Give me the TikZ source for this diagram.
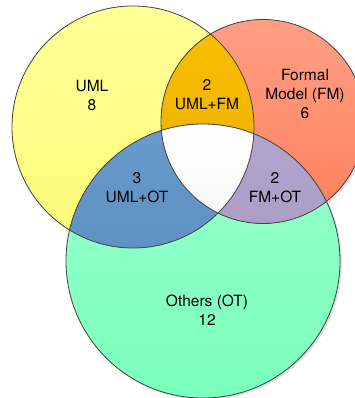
\documentclass[tikz,border=0pt]{standalone}
\usepackage{fontspec}
\setmainfont{TeX Gyre Heros}
\usetikzlibrary{positioning}

\definecolor{umltop}{RGB}{255,255,150}
\definecolor{umlbot}{RGB}{255,250,122}
\definecolor{fmtop}{RGB}{255,158,132}
\definecolor{fmbot}{RGB}{255,128,92}
\definecolor{ottop}{RGB}{152,255,205}
\definecolor{otbot}{RGB}{122,255,188}
\definecolor{umlfmtop}{RGB}{250,192,0}
\definecolor{umlfmbot}{RGB}{234,172,0}
\definecolor{umlottop}{RGB}{104,154,204}
\definecolor{umlotbot}{RGB}{84,134,184}
\definecolor{fmottop}{RGB}{178,164,204}
\definecolor{fmotbot}{RGB}{164,148,188}
\definecolor{rim}{RGB}{70,70,70}

\tikzset{
  settext/.style={align=center, font=\fontsize{15.5}{19}\selectfont, inner sep=0pt},
  rimline/.style={draw=rim, line width=0.8pt}
}

\begin{document}
\begin{tikzpicture}[x=1pt, y=-1pt]
  \useasboundingbox (0,0) rectangle (355,398);
  \clip (0,0) rectangle (355,398);

  \coordinate (uml) at (133,127);
  \coordinate (fm) at (263,121.5);
  \coordinate (ot) at (203,261);

  % sombras
  \fill[black, opacity=0.12] ([shift={(2,2)}]uml) circle [radius=121pt];
  \fill[black, opacity=0.12] ([shift={(2,2)}]fm) circle [radius=102pt];
  \fill[black, opacity=0.12] ([shift={(2,2)}]ot) circle [radius=137pt];

  % conjuntos
  \fill[top color=umltop, bottom color=umlbot] (uml) circle [radius=121pt];
  \fill[top color=fmtop, bottom color=fmbot] (fm) circle [radius=102pt];
  \fill[top color=ottop, bottom color=otbot] (ot) circle [radius=137pt];

  % intersecoes
  \begin{scope}
    \clip (uml) circle [radius=121pt];
    \fill[top color=umlfmtop, bottom color=umlfmbot] (fm) circle [radius=102pt];
  \end{scope}
  \begin{scope}
    \clip (uml) circle [radius=121pt];
    \fill[top color=umlottop, bottom color=umlotbot] (ot) circle [radius=137pt];
  \end{scope}
  \begin{scope}
    \clip (fm) circle [radius=102pt];
    \fill[top color=fmottop, bottom color=fmotbot] (ot) circle [radius=137pt];
  \end{scope}
  \begin{scope}
    \clip (uml) circle [radius=121pt];
    \clip (fm) circle [radius=102pt];
    \fill[top color=white, bottom color=black!8] (ot) circle [radius=137pt];
  \end{scope}

  \draw[rimline] (uml) circle [radius=121pt];
  \draw[rimline] (fm) circle [radius=102pt];
  \draw[rimline] (ot) circle [radius=137pt];

  % textos
  \node[settext] (umlonly) at (92,95) {UML\\8};
  \node[settext] (fmonly) at (305,94) {Formal\\Model (FM)\\6};
  \node[settext] (otonly) at (207,310) {Others (OT)\\12};
  \node[settext] (umlfm) at (207,95) {2\\UML+FM};
  \node[settext] (umlot) at (137,188) {3\\UML+OT};
  \node[settext] (fmot) at (275,188) {2\\FM+OT};
\end{tikzpicture}
\end{document}
